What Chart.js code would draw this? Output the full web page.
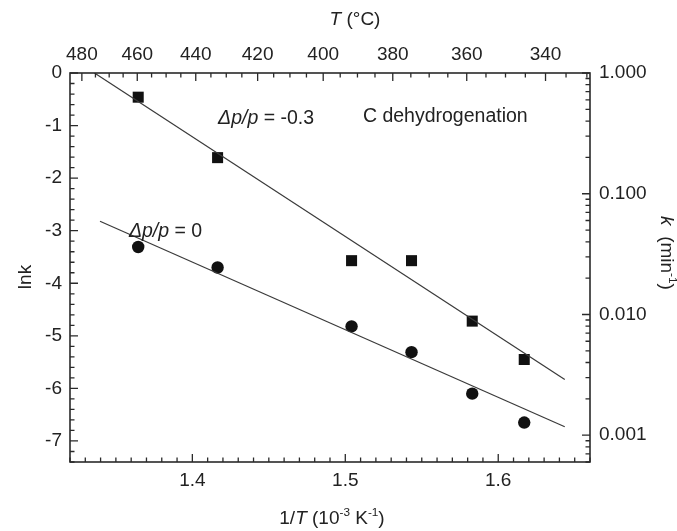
<!DOCTYPE html>
<html>
<head>
<meta charset="utf-8">
<script src="https://cdn.jsdelivr.net/npm/chart.js@4/dist/chart.umd.min.js"></script>
<style>
  html, body { margin: 0; padding: 0; background: #fff; }
  canvas { display: block; }
</style>
</head>
<body>
<canvas id="c" width="677" height="531"></canvas>
<script>
// measured points, x = 1/T (10^-3 K^-1), y = ln k
var invT = [1.3646, 1.4165, 1.5041, 1.5433, 1.583, 1.617];
var lnkMinus03 = [-0.46, -1.61, -3.57, -3.57, -4.72, -5.45];
var lnkZero = [-3.31, -3.70, -4.82, -5.31, -6.10, -6.65];

// linear fits (end points)
var fitXMinus03 = [1.336, 1.6435];
var fitYMinus03 = [0, -5.83];
var fitXZero = [1.3396, 1.6435];
var fitYZero = [-2.82, -6.73];

// axis ticks
var invTTicks = [1.4, 1.5, 1.6];
var tempTicks = [480, 460, 440, 420, 400, 380, 360, 340];
var lnkTicks = [0, -1, -2, -3, -4, -5, -6, -7];
var kTicks = [1, 0.1, 0.01, 0.001];

var FONT = '"Liberation Sans", Arial, sans-serif';
var INK = '#222';

function toInvT(t) { return 1000 / (t + 273.15); }

function pts(xs, ys) {
  return xs.map(function(x, i) { return {x: x, y: ys[i]}; });
}

// draws a line of text made of pieces (italic / superscript)
function richText(ctx, parts, x, y, size, align) {
  var total = 0, widths = [];
  parts.forEach(function(p) {
    ctx.font = (p.it ? 'italic ' : '') + (p.sup ? size * 0.62 : size) + 'px ' + FONT;
    var w = ctx.measureText(p.t).width;
    widths.push(w);
    total += w;
  });
  var cx = align === 'center' ? x - total / 2 : x;
  ctx.textAlign = 'left';
  ctx.textBaseline = 'alphabetic';
  parts.forEach(function(p, i) {
    ctx.font = (p.it ? 'italic ' : '') + (p.sup ? size * 0.62 : size) + 'px ' + FONT;
    ctx.fillText(p.t, cx, p.sup ? y - size * 0.42 : y);
    cx += widths[i];
  });
}

var frameTicks = {
  id: 'frameTicks',
  afterDraw: function(chart) {
    var ctx = chart.ctx, a = chart.chartArea, s = chart.scales;
    var MAJ = 8, MIN = 4.5;
    ctx.save();
    ctx.strokeStyle = '#2a2a2a';
    ctx.lineWidth = 1.6;
    ctx.strokeRect(a.left, a.top, a.right - a.left, a.bottom - a.top);

    ctx.lineWidth = 1.3;
    ctx.beginPath();
    var i, v, p;
    // bottom: 1/T
    for (i = 132; i <= 166; i++) {
      v = i / 100;
      p = s.x.getPixelForValue(v);
      var len = (i % 10 === 0) ? MAJ : MIN;
      ctx.moveTo(p, a.bottom); ctx.lineTo(p, a.bottom - len);
    }
    // top: temperature
    for (var t = 480; t >= 330; t -= 5) {
      p = s.x2.getPixelForValue(toInvT(t));
      if (p < a.left || p > a.right) continue;
      var tl = (t % 20 === 0) ? MAJ : MIN;
      ctx.moveTo(p, a.top); ctx.lineTo(p, a.top + tl);
    }
    // left: ln k
    for (i = 0; i >= -37; i--) {
      v = i / 5;
      p = s.y.getPixelForValue(v);
      var ll = (i % 5 === 0) ? MAJ : MIN;
      ctx.moveTo(a.left, p); ctx.lineTo(a.left + ll, p);
    }
    // right: k, log
    [0.0001, 0.001, 0.01, 0.1].forEach(function(d) {
      for (var m = 1; m <= 9; m++) {
        var kv = m * d;
        if (kv < s.y2.min || kv > s.y2.max) continue;
        var pp = s.y2.getPixelForValue(kv);
        var rl = (m === 1) ? MAJ : MIN;
        ctx.moveTo(a.right, pp); ctx.lineTo(a.right - rl, pp);
      }
    });
    ctx.moveTo(a.right, s.y2.getPixelForValue(1)); ctx.lineTo(a.right - MAJ, s.y2.getPixelForValue(1));
    ctx.stroke();

    // axis titles
    ctx.fillStyle = INK;
    richText(ctx, [{t: '1/'}, {t: 'T', it: true}, {t: ' (10'}, {t: '-3', sup: true}, {t: ' K'}, {t: '-1', sup: true}, {t: ')'}],
      332, 524, 19, 'center');
    richText(ctx, [{t: 'T', it: true}, {t: ' (°C)'}], 355, 25, 19, 'center');

    ctx.save();
    ctx.translate(31, 277);
    ctx.rotate(-Math.PI / 2);
    richText(ctx, [{t: 'ln'}, {t: 'k'}], 0, 0, 19, 'center');
    ctx.restore();

    ctx.save();
    ctx.translate(661, 253);
    ctx.rotate(Math.PI / 2);
    richText(ctx, [{t: 'k', it: true}, {t: '  (min'}, {t: '-1', sup: true}, {t: ')'}], 0, 0, 19, 'center');
    ctx.restore();

    // annotations, anchored in data units
    richText(ctx, [{t: 'Δp/p', it: true}, {t: ' = -0.3'}],
      s.x.getPixelForValue(1.4168), s.y.getPixelForValue(-0.97), 19.5, 'left');
    richText(ctx, [{t: 'C dehydrogenation'}],
      s.x.getPixelForValue(1.5115), s.y.getPixelForValue(-0.925), 19.5, 'left');
    richText(ctx, [{t: 'Δp/p', it: true}, {t: ' = 0'}],
      s.x.getPixelForValue(1.3585), s.y.getPixelForValue(-3.12), 19.5, 'left');
    ctx.restore();
  }
};

function hideGrid() {
  return {display: false, drawTicks: false};
}

var tickFont = {family: FONT, size: 19};

new Chart(document.getElementById('c'), {
  type: 'scatter',
  data: {
    datasets: [
      {
        label: 'fit -0.3',
        data: pts(fitXMinus03, fitYMinus03),
        showLine: true, pointRadius: 0,
        borderColor: '#3a3a3a', borderWidth: 1.2,
        xAxisID: 'x', yAxisID: 'y'
      },
      {
        label: 'fit 0',
        data: pts(fitXZero, fitYZero),
        showLine: true, pointRadius: 0,
        borderColor: '#3a3a3a', borderWidth: 1.2,
        xAxisID: 'x', yAxisID: 'y'
      },
      {
        label: 'Δp/p = -0.3',
        data: pts(invT, lnkMinus03),
        pointStyle: 'rect', pointRadius: 7.8,
        backgroundColor: '#111', borderColor: '#111', borderWidth: 0,
        xAxisID: 'x', yAxisID: 'y'
      },
      {
        label: 'Δp/p = 0',
        data: pts(invT, lnkZero),
        pointStyle: 'circle', pointRadius: 6.2,
        backgroundColor: '#111', borderColor: '#111', borderWidth: 0,
        xAxisID: 'x', yAxisID: 'y'
      }
    ]
  },
  options: {
    responsive: false,
    animation: false,
    layout: {padding: 0},
    plugins: {legend: {display: false}, tooltip: {enabled: false}},
    scales: {
      x: {
        type: 'linear', position: 'bottom', min: 1.32, max: 1.66,
        grid: hideGrid(), border: {display: false},
        ticks: {font: tickFont, color: INK, padding: 7, autoSkip: false, maxRotation: 0,
          callback: function(v) { return v.toFixed(1); }},
        afterBuildTicks: function(sc) { sc.ticks = invTTicks.map(function(v) { return {value: v}; }); },
        afterFit: function(sc) { sc.height = 69; }
      },
      x2: {
        type: 'linear', position: 'top', min: 1.32, max: 1.66,
        grid: hideGrid(), border: {display: false},
        ticks: {font: tickFont, color: INK, padding: 7, autoSkip: false, maxRotation: 0,
          callback: function(v, i) { return String(tempTicks[i]); }},
        afterBuildTicks: function(sc) { sc.ticks = tempTicks.map(function(t) { return {value: toInvT(t)}; }); },
        afterFit: function(sc) { sc.height = 73; }
      },
      y: {
        type: 'linear', position: 'left', min: -7.4, max: 0,
        grid: hideGrid(), border: {display: false},
        ticks: {font: tickFont, color: INK, padding: 8, autoSkip: false,
          callback: function(v) { return String(v); }},
        afterBuildTicks: function(sc) { sc.ticks = lnkTicks.map(function(v) { return {value: v}; }); },
        afterFit: function(sc) { sc.width = 70; }
      },
      y2: {
        type: 'logarithmic', position: 'right', min: Math.exp(-7.4), max: 1,
        grid: hideGrid(), border: {display: false},
        ticks: {font: tickFont, color: INK, padding: 9, autoSkip: false,
          callback: function(v) { return Number(v).toFixed(3); }},
        afterBuildTicks: function(sc) { sc.ticks = kTicks.map(function(v) { return {value: v}; }); },
        afterFit: function(sc) { sc.width = 87; }
      }
    }
  },
  plugins: [frameTicks]
});
</script>
</body>
</html>
